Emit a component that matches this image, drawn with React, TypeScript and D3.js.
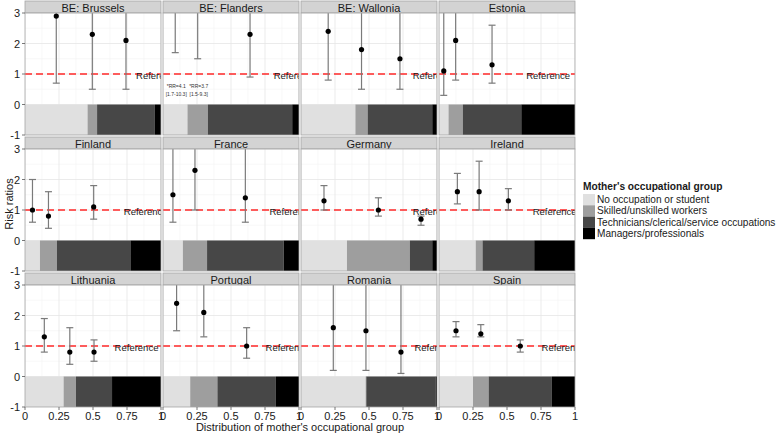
import React from "react";
import * as d3 from "d3";

const countries = [
  "BE: Brussels", "BE: Flanders", "BE: Wallonia", "Estonia",
  "Finland", "France", "Germany", "Ireland",
  "Lithuania", "Portugal", "Romania", "Spain",
];
const groups = [
  "No occupation or student",
  "Skilled/unskilled workers",
  "Technicians/clerical/service occupations",
  "Managers/professionals",
];
const groupColors = ["#e0e0e0", "#9e9e9e", "#474747", "#000000"];

// share of each occupational group per country
const shareNoOcc = [0.46, 0.18, 0.40, 0.07, 0.11, 0.146, 0.338, 0.27, 0.284, 0.2, 0.475, 0.25];
const shareSkilled = [0.07, 0.15, 0.09, 0.105, 0.125, 0.178, 0.462, 0.05, 0.091, 0.2, 0.005, 0.115];
const shareTech = [0.425, 0.62, 0.475, 0.43, 0.54, 0.563, 0.165, 0.38, 0.265, 0.43, 0.51, 0.465];
const shareManager = [0.045, 0.05, 0.035, 0.395, 0.225, 0.113, 0.035, 0.30, 0.36, 0.17, 0.01, 0.17];

// risk ratios (vs managers/professionals) for the first three groups
const rrValue = [
  [2.9, 2.3, 2.1], [4.1, 3.7, 2.3], [2.4, 1.8, 1.5], [1.1, 2.1, 1.3],
  [1.0, 0.8, 1.1], [1.5, 2.3, 1.4], [1.3, 1.0, 0.7], [1.6, 1.6, 1.3],
  [1.3, 0.8, 0.8], [2.4, 2.1, 1.0], [1.6, 1.5, 0.8], [1.5, 1.4, 1.0],
];
const rrLower = [
  [0.7, 0.5, 0.5], [1.7, 1.5, 0.9], [0.8, 0.5, 0.5], [0.3, 0.8, 0.7],
  [0.6, 0.4, 0.7], [0.6, 1.0, 0.6], [1.0, 0.8, 0.5], [1.2, 1.0, 1.0],
  [0.8, 0.4, 0.5], [1.5, 1.3, 0.6], [0.2, 0.2, 0.1], [1.3, 1.3, 0.8],
];
const rrUpper = [
  [9.0, 8.0, 7.0], [10.3, 9.3, 6.0], [7.0, 6.0, 5.0], [4.0, 6.0, 2.6],
  [2.0, 1.6, 1.8], [4.0, 5.0, 3.5], [1.8, 1.4, 0.8], [2.2, 2.6, 1.7],
  [1.9, 1.6, 1.2], [4.0, 3.5, 1.6], [10.0, 9.0, 6.0], [1.8, 1.7, 1.2],
];
// off-scale annotations (Flanders)
const noteCountry = [1, 1];
const noteGroup = [0, 1];
const noteLine1 = ["*RR=4.1", "*RR=3.7"];
const noteLine2 = ["[1.7-10.3]", "[1.5-9.3]"];

const xTicks = [0, 0.25, 0.5, 0.75, 1];
const xTickLabels = ["0", "0.25", "0.5", "0.75", "1"];
const yTicks = [-1, 0, 1, 2, 3];

const W = 778, H = 433;
const left0 = 25, panelW = 136, colStep = 138;
const top0 = 1, stripH = 12, panelH = 122, rowStep = 136;
const font = "'Liberation Sans', Arial, sans-serif";

export default function App() {
  const panels = countries.map((name, i) => {
    const col = i % 4, row = Math.floor(i / 4);
    const px = left0 + col * colStep;
    const sy = top0 + row * rowStep;
    const py = sy + stripH;
    const x = d3.scaleLinear().domain([0, 1]).range([px, px + panelW]);
    const y = d3.scaleLinear().domain([-1, 3]).range([py + panelH, py]);
    const shares = [shareNoOcc[i], shareSkilled[i], shareTech[i], shareManager[i]];
    const cum = d3.cumsum(shares);
    const starts = [0, ...Array.from(cum).slice(0, 3)];
    const mids = shares.map((s, k) => starts[k] + s / 2);
    const clipId = `clip${i}`;
    const minorX = [0.125, 0.375, 0.625, 0.875];
    const minorY = [-0.5, 0.5, 1.5, 2.5];
    return (
      <g key={name}>
        <defs>
          <clipPath id={clipId}>
            <rect x={px} y={py} width={panelW} height={panelH} />
          </clipPath>
        </defs>
        {/* strip */}
        <rect x={px} y={sy} width={panelW} height={stripH} fill="#d3d3d3" stroke="#a6a6a6" strokeWidth={0.8} />
        <text x={px + panelW / 2} y={sy + stripH / 2 + 0.5} textAnchor="middle" dominantBaseline="central"
          fontSize={11} fontFamily={font} fill="#1a1a1a">{name}</text>
        {/* panel */}
        <rect x={px} y={py} width={panelW} height={panelH} fill="#ffffff" />
        <g clipPath={`url(#${clipId})`}>
          {minorX.map((v) => (
            <line key={"mx" + v} x1={x(v)} x2={x(v)} y1={py} y2={py + panelH} stroke="#f3f3f3" strokeWidth={0.6} />
          ))}
          {minorY.map((v) => (
            <line key={"my" + v} x1={px} x2={px + panelW} y1={y(v)} y2={y(v)} stroke="#f3f3f3" strokeWidth={0.6} />
          ))}
          {xTicks.map((v) => (
            <line key={"gx" + v} x1={x(v)} x2={x(v)} y1={py} y2={py + panelH} stroke="#e6e6e6" strokeWidth={0.8} />
          ))}
          {yTicks.map((v) => (
            <line key={"gy" + v} x1={px} x2={px + panelW} y1={y(v)} y2={y(v)} stroke="#e6e6e6" strokeWidth={0.8} />
          ))}
          {shares.map((s, k) => (
            <rect key={"b" + k} x={x(starts[k])} y={y(0)} width={x(starts[k] + s) - x(starts[k])}
              height={y(-1) - y(0)} fill={groupColors[k]} />
          ))}
          <line x1={px} x2={px + panelW} y1={y(1)} y2={y(1)} stroke="#ff2a2a" strokeWidth={1.5} strokeDasharray="7,4" />
          <text x={x(mids[3])} y={y(1) + 1.5} textAnchor="middle" dominantBaseline="central"
            fontSize={9.5} fontFamily={font} fill="#1a1a1a">Reference</text>
          {[0, 1, 2].map((k) => (
            <g key={"e" + k}>
              <line x1={x(mids[k])} x2={x(mids[k])} y1={y(rrLower[i][k])} y2={y(rrUpper[i][k])} stroke="#7a7a7a" strokeWidth={1.2} />
              <line x1={x(mids[k]) - 3.5} x2={x(mids[k]) + 3.5} y1={y(rrLower[i][k])} y2={y(rrLower[i][k])} stroke="#7a7a7a" strokeWidth={1.2} />
              <line x1={x(mids[k]) - 3.5} x2={x(mids[k]) + 3.5} y1={y(rrUpper[i][k])} y2={y(rrUpper[i][k])} stroke="#7a7a7a" strokeWidth={1.2} />
              <circle cx={x(mids[k])} cy={y(rrValue[i][k])} r={2.6} fill="#000" />
            </g>
          ))}
          {noteCountry.map((c, n) => c === i ? (
            <g key={"n" + n}>
              <text x={x(mids[noteGroup[n]]) + 1} y={y(0.6)} textAnchor="middle" dominantBaseline="central"
                fontSize={5} fontFamily={font} fill="#333">{noteLine1[n]}</text>
              <text x={x(mids[noteGroup[n]]) + 1} y={y(0.33)} textAnchor="middle" dominantBaseline="central"
                fontSize={5} fontFamily={font} fill="#333">{noteLine2[n]}</text>
            </g>
          ) : null)}
        </g>
        <rect x={px} y={py} width={panelW} height={panelH} fill="none" stroke="#a6a6a6" strokeWidth={0.8} />
        {col === 0 && yTicks.map((v) => (
          <g key={"yt" + v}>
            <line x1={px - 3} x2={px} y1={y(v)} y2={y(v)} stroke="#555" strokeWidth={0.8} />
            <text x={px - 5} y={y(v)} textAnchor="end" dominantBaseline="central" fontSize={11}
              fontFamily={font} fill="#1a1a1a">{v}</text>
          </g>
        ))}
        {row === 2 && xTicks.map((v, k) => (
          <g key={"xt" + v}>
            <line x1={x(v)} x2={x(v)} y1={py + panelH} y2={py + panelH + 3} stroke="#555" strokeWidth={0.8} />
            <text x={x(v)} y={py + panelH + 13} textAnchor="middle" fontSize={11}
              fontFamily={font} fill="#1a1a1a">{xTickLabels[k]}</text>
          </g>
        ))}
      </g>
    );
  });

  const legX = 583, legY = 194, keyH = 11.3;
  return (
    <svg width={W} height={H} style={{ position: "absolute", left: 0, top: 0, background: "#fff" }}>
      <rect x={0} y={0} width={W} height={H} fill="#fff" />
      {panels}
      <text x={300} y={431} textAnchor="middle" fontSize={11} fontFamily={font} fill="#1a1a1a">
        Distribution of mother's occupational group
      </text>
      <text transform={`translate(9,${204}) rotate(-90)`} textAnchor="middle" dominantBaseline="central"
        fontSize={11} fontFamily={font} fill="#1a1a1a">Risk ratios</text>
      <text x={legX} y={legY - 4} fontSize={10.2} fontWeight="bold" fontFamily={font} fill="#1a1a1a">
        Mother's occupational group
      </text>
      {groups.map((g, k) => (
        <g key={g}>
          <rect x={legX} y={legY + k * keyH} width={12} height={keyH} fill={groupColors[k]} />
          <text x={legX + 14} y={legY + k * keyH + keyH / 2} dominantBaseline="central" fontSize={10.1}
            fontFamily={font} fill="#1a1a1a">{g}</text>
        </g>
      ))}
    </svg>
  );
}
